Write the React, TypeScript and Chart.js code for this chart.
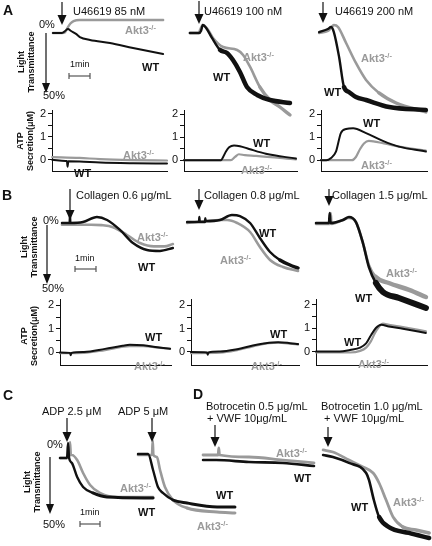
import React, { useEffect, useRef } from 'react';
import { Chart, registerables } from 'chart.js';

Chart.register(...registerables);

type Pt = [number, number];

// ===== DATA: time (s, from agonist addition) vs light transmittance (%) or ATP (µM) =====
// A: U46619
const a1WT: Pt[] = [[-26, 0], [0, 0], [9, -1.7], [17, -3.4], [26, -1.7], [40, 0.8], [51, 3.4], [80, 5.9], [137, 8.5], [203, 12.7], [289, 17.8]];
const a1Akt3: Pt[] = [[-26, 0], [0, 0], [8, -0.5], [15, -4], [24, -8], [33, -10], [50, -11], [100, -11], [200, -11], [289, -11]];
const a2WT: Pt[] = [[-26, 0], [0, 0], [6, -2], [11, -6.8], [20, -4.5], [37, 4.2], [60, 14.4], [80, 16.9], [97, 22.9], [117, 33], [137, 45.8], [166, 52.5], [203, 56.8], [260, 59.3]];
const a2Akt3: Pt[] = [[-26, 0], [0, 0], [3, -2.5], [11, -6.8], [26, -2.5], [40, 4.2], [69, 11.9], [109, 14.4], [126, 18.6], [146, 28.8], [174, 45.8], [203, 56.8], [231, 62.7], [260, 69.5]];
const a3WT: Pt[] = [[-11, -0.8], [14, -3.4], [23, -5.1], [31, -0.8], [46, 20.3], [60, 45.8], [74, 50], [94, 54.2], [123, 56.8], [189, 62.7], [294, 65.3]];
const a3Akt3: Pt[] = [[-11, 0], [14, -1.7], [23, -4.2], [31, -6.8], [43, -5.1], [66, 8.5], [94, 25.4], [123, 39.8], [160, 50.8], [209, 59.3], [294, 66.9]];
const atpA1WT: Pt[] = [[-28, 0], [10, -0.05], [14, -0.05], [16, -0.3], [18, -0.06], [50, -0.07], [109, -0.12], [203, -0.15], [300, -0.16]];
const atpA1Akt3: Pt[] = [[-28, 0.12], [50, 0.08], [109, 0.03], [200, -0.01], [300, -0.03]];
const atpA2WT: Pt[] = [[-43, 0], [63, 0], [69, 0.14], [77, 0.38], [86, 0.56], [100, 0.64], [117, 0.61], [143, 0.49], [191, 0.28], [277, 0.07]];
const atpA2Akt3: Pt[] = [[-43, 0], [91, 0], [103, 0.14], [114, 0.26], [131, 0.22], [163, 0.19], [277, 0.03]];
const atpA3WT: Pt[] = [[-6, 0], [9, 0], [23, 0.1], [37, 0.37], [51, 1.18], [66, 1.36], [86, 1.39], [123, 1.18], [171, 0.84], [217, 0.59], [294, 0.38]];
const atpA3Akt3: Pt[] = [[-6, 0], [83, 0], [94, 0.14], [106, 0.49], [117, 0.73], [131, 0.84], [174, 0.73], [217, 0.59], [294, 0.42]];

// B: Collagen
const b1WT: Pt[] = [[-23, 0], [-1, 0], [0, -6], [1, 0], [37, -0.8], [77, -5], [106, -2.5], [143, 5.8], [180, 16.7], [220, 22.5], [257, 23.3], [294, 20.8]];
const b1Akt3: Pt[] = [[-23, 1.5], [60, 1.5], [90, 1.8], [123, 3.5], [163, 10], [200, 16.7], [240, 19.5], [270, 19.5], [294, 17.5]];
const b2WT: Pt[] = [[-34, -0.8], [0, -0.8], [1, -5], [2, -0.8], [17, -0.8], [18, -4], [19, -1.5], [60, -2.5], [94, -6.7], [117, -5.8], [146, 0], [174, 12.5], [203, 24.2], [231, 30.8], [260, 35], [283, 37.5]];
const b2Akt3: Pt[] = [[-34, 0], [60, -2.5], [80, -2.5], [109, 0], [146, 7.5], [174, 20], [203, 30.8], [240, 36.7], [283, 40]];
const b3WT: Pt[] = [[-37, 0], [0, 0], [2, -8.3], [4, 0], [40, -2.5], [57, -5], [77, -0.8], [97, 16.7], [114, 36.7], [134, 50], [154, 57.5], [200, 62.5], [277, 70.8]];
const b3Akt3: Pt[] = [[-37, 0.8], [3, 0.8], [5, -8.3], [7, 0.8], [40, -2.5], [57, -4.2], [77, -0.8], [97, 16.7], [114, 35], [134, 45], [171, 50], [229, 55.8], [277, 61.7]];
const atpB1WT: Pt[] = [[-29, 0], [0, -0.02], [2, -0.12], [4, -0.02], [40, 0.02], [100, 0.15], [150, 0.28], [171, 0.32], [210, 0.3], [250, 0.22], [286, 0.16]];
const atpB1Akt3: Pt[] = [[-29, -0.03], [40, -0.02], [100, 0.1], [171, 0.27], [210, 0.27], [250, 0.2], [286, 0.15]];
const atpB2WT: Pt[] = [[-23, 0], [23, -0.02], [25, -0.12], [27, -0.02], [60, 0.02], [109, 0.12], [154, 0.28], [200, 0.4], [226, 0.42], [260, 0.38], [283, 0.34]];
const atpB2Akt3: Pt[] = [[-23, -0.05], [60, -0.03], [109, 0.08], [154, 0.24], [200, 0.38], [226, 0.4], [260, 0.36], [283, 0.32]];
const atpB3WT: Pt[] = [[-37, 0], [31, 0], [60, 0.07], [89, 0.17], [106, 0.35], [120, 0.7], [134, 1.01], [149, 1.15], [171, 1.08], [211, 0.98], [277, 0.8]];
const atpB3Akt3: Pt[] = [[-37, -0.04], [60, -0.04], [89, 0.03], [106, 0.17], [120, 0.45], [134, 0.87], [154, 1.2], [171, 1.15], [211, 1.05], [277, 0.87]];

// C: ADP
const c1WT: Pt[] = [[-20, 0.9], [0, 0.9], [3, -12.5], [6, 0.9], [14, 5.4], [29, 17.9], [46, 26.8], [74, 32.1], [114, 35.7], [246, 36.6]];
const c1Akt3: Pt[] = [[-20, 0.9], [6, 0.9], [8.6, -13.4], [11, -1.8], [14, -1.8], [29, 2.7], [46, 14.3], [66, 25], [94, 32.1], [143, 35.7], [246, 35.7]];
const c2WT: Pt[] = [[-40, -2.7], [-11, -2.7], [3, 11.6], [17, 26.8], [31, 32.1], [60, 38.4], [100, 41.1], [186, 44.6], [237, 44.6]];
const c2Akt3: Pt[] = [[-40, -1.8], [0, -1.8], [2, -15], [4, -1.8], [14, 0], [23, 11.6], [37, 26.8], [60, 38.4], [100, 45.5], [186, 49.1], [237, 50]];

// D: Botrocetin + VWF
const d1WT: Pt[] = [[-37, 4.5], [0, 4.5], [94, 6.3], [191, 7.1], [280, 9.8]];
const d1Akt3: Pt[] = [[-37, 0], [6, 0], [8, -6.3], [10, 0], [94, 1.8], [191, 4.5], [280, 7.1]];
const d2WT: Pt[] = [[-14, 0], [14, 1.8], [60, 7.1], [109, 16.1], [117, 22.3], [131, 40.2], [146, 55.4], [174, 64.3], [231, 69.6], [289, 74.1]];
const d2Akt3: Pt[] = [[-14, -4.5], [14, -2.7], [60, 4.5], [100, 10.7], [129, 16.1], [146, 25], [166, 40.2], [186, 55.4], [214, 64.3], [251, 67], [289, 69.6]];

const atpTicks = [0, 0.5, 1, 1.5, 2];

// ===== STYLE / LAYOUT =====
const INK = '#111111';
const GREY = '#9a9a9a';
const FONT = '"Liberation Sans", Arial, Helvetica, sans-serif';
const PPS = 0.35; // px per second (1 min ≈ 21 px)
const AXW = 20;
const PADB = 2;

type Frame = { left: number; top: number; width: number; height: number; x: [number, number]; y: [number, number] };
type Trace = { data: Pt[]; color: string; width: number; noisyFrom?: number; noisyWidth?: number };

function aggFrame(left: number, right: number, top: number, bottom: number, x0: number, y0: number, ppu: number): Frame {
  return { left, top, width: right - left, height: bottom - top, x: [(left - x0) / PPS, (right - x0) / PPS], y: [(top - y0) / ppu, (bottom - y0) / ppu] };
}
function atpFrame(axisX: number, right: number, top: number, bottom: number, x0: number, y0: number, ppu: number): Frame {
  return { left: axisX - AXW, top, width: right - axisX + AXW, height: bottom - top + PADB, x: [(axisX - x0) / PPS, (right - x0) / PPS], y: [(y0 - bottom) / ppu, (y0 - top) / ppu] };
}

function Plot({ f, traces, atp }: { f: Frame; traces: Trace[]; atp?: boolean }) {
  const ref = useRef<HTMLCanvasElement>(null);
  useEffect(() => {
    const cv = ref.current;
    if (!cv) return;
    const yScale: any = atp
      ? {
          type: 'linear', min: f.y[0], max: f.y[1], position: 'left',
          afterBuildTicks: (s: any) => { s.ticks = atpTicks.map((v) => ({ value: v })); },
          afterFit: (s: any) => { s.width = AXW; },
          ticks: { callback: (v: any) => (Number.isInteger(v) ? String(v) : ''), font: { family: FONT, size: 11 }, color: INK, padding: 2, autoSkip: false },
          grid: { display: true, drawOnChartArea: false, drawTicks: true, tickLength: 4, color: INK, lineWidth: 1 },
          border: { display: true, color: INK, width: 1 },
        }
      : { type: 'linear', min: f.y[0], max: f.y[1], reverse: true, display: false };
    const xScale: any = atp
      ? {
          type: 'linear', min: f.x[0], max: f.x[1], position: 'bottom',
          afterFit: (s: any) => { s.height = 0; },
          ticks: { display: false },
          grid: { display: false },
          border: { display: true, color: INK, width: 1 },
        }
      : { type: 'linear', min: f.x[0], max: f.x[1], display: false };
    const chart = new Chart(cv, {
      type: 'line',
      data: {
        datasets: traces.map((t) => ({
          data: t.data.map(([x, y]) => ({ x, y })),
          borderColor: t.color,
          borderWidth: t.width,
          segment: t.noisyFrom === undefined ? undefined : {
            borderWidth: (ctx: any) => (ctx.p0.parsed.x >= (t.noisyFrom as number) ? t.noisyWidth : t.width),
          },
          pointRadius: 0,
          fill: false,
          cubicInterpolationMode: 'monotone',
          borderJoinStyle: 'round',
          borderCapStyle: 'round',
          clip: 8,
        })) as any,
      },
      options: {
        responsive: false,
        animation: false,
        devicePixelRatio: 1,
        events: [],
        layout: { autoPadding: false, padding: atp ? { left: 0, right: 0, top: 0, bottom: PADB } : 0 } as any,
        plugins: { legend: { display: false }, tooltip: { enabled: false } },
        scales: { x: xScale, y: yScale },
      },
    });
    return () => chart.destroy();
  }, []);
  return <canvas ref={ref} width={f.width} height={f.height} style={{ position: 'absolute', left: f.left, top: f.top }} />;
}

function T({ x, y, s = 11, b = false, c = INK, children }: { x: number; y: number; s?: number; b?: boolean; c?: string; children: React.ReactNode }) {
  return (
    <div style={{ position: 'absolute', left: x, top: y - 0.13 * s, fontSize: s, lineHeight: 1, fontWeight: b ? 700 : 400, color: c, whiteSpace: 'nowrap', fontFamily: FONT }}>
      {children}
    </div>
  );
}
const WT = ({ x, y }: { x: number; y: number }) => <T x={x} y={y} b>WT</T>;
const KO = ({ x, y }: { x: number; y: number }) => (
  <T x={x} y={y} b c={GREY}>
    Akt3<span style={{ fontSize: 7.5, position: 'relative', top: -4 }}>-/-</span>
  </T>
);
function R({ cx, cy, lines, s = 9 }: { cx: number; cy: number; lines: string[]; s?: number }) {
  return (
    <div style={{ position: 'absolute', left: cx, top: cy, transform: 'translate(-50%,-50%) rotate(-90deg)', fontSize: s, fontWeight: 700, lineHeight: 1.1, textAlign: 'center', whiteSpace: 'nowrap', fontFamily: FONT, color: INK }}>
      {lines.map((l) => (<div key={l}>{l}</div>))}
    </div>
  );
}

const K = (c: string, w: number, d: Pt[], noisyFrom?: number, noisyWidth?: number): Trace => ({ data: d, color: c, width: w, noisyFrom, noisyWidth });

export default function App() {
  const agonistArrows: [number, number, number][] = [
    [62, 2, 25], [199, 1, 24], [323, 2, 23],
    [70, 189, 220], [199, 189, 210], [329, 189, 206],
    [67, 418, 442], [152, 418, 442],
    [215, 425, 447], [328, 427, 447],
  ];
  const axisArrows: [number, number, number][] = [[46, 33, 93], [47, 225, 284], [50, 457, 514]];
  const bars: [number, number, number][] = [[69, 90, 76], [75, 96, 269], [80, 100, 524]];
  const arrow = (x: number, y1: number, y2: number, hw: number, key: string) => (
    <g key={key}>
      <line x1={x} y1={y1} x2={x} y2={y2 - 8} stroke={INK} strokeWidth={1.2} />
      <polygon points={`${x - hw},${y2 - 10} ${x + hw},${y2 - 10} ${x},${y2}`} fill={INK} />
    </g>
  );

  return (
    <div style={{ position: 'absolute', left: 0, top: 0, width: 432, height: 546, background: '#fff', overflow: 'hidden', fontFamily: FONT }}>
      {/* A */}
      <Plot f={aggFrame(48, 170, 12, 125, 62, 33, 1.18)} traces={[K(INK, 2, a1WT), K(GREY, 2.4, a1Akt3)]} />
      <Plot f={aggFrame(182, 300, 12, 125, 199, 33, 1.18)} traces={[K(INK, 2.4, a2WT, 55, 4.5), K(GREY, 2.6, a2Akt3, 170, 3.4)]} />
      <Plot f={aggFrame(312, 432, 12, 125, 323, 33, 1.18)} traces={[K(INK, 2.4, a3WT, 55, 4.5), K(GREY, 2.6, a3Akt3, 150, 3.4)]} />
      <Plot atp f={atpFrame(52, 168, 102, 178, 62, 163.5, 28.7)} traces={[K(INK, 2, atpA1WT), K(GREY, 2.2, atpA1Akt3)]} />
      <Plot atp f={atpFrame(184, 298, 102, 178, 199, 164, 28.7)} traces={[K(INK, 2, atpA2WT), K(GREY, 2.2, atpA2Akt3)]} />
      <Plot atp f={atpFrame(321, 428, 102, 178, 323, 164, 28.7)} traces={[K(INK, 2, atpA3WT), K(GREY, 2.2, atpA3Akt3)]} />
      {/* B */}
      <Plot f={aggFrame(55, 180, 205, 320, 70, 223, 1.2)} traces={[K(INK, 2.4, b1WT), K(GREY, 2.6, b1Akt3)]} />
      <Plot f={aggFrame(183, 303, 205, 320, 199, 223, 1.2)} traces={[K(INK, 2.4, b2WT, 220, 3.4), K(GREY, 2.6, b2Akt3)]} />
      <Plot f={aggFrame(310, 432, 205, 320, 329, 223, 1.2)} traces={[K(INK, 2.6, b3WT, 125, 6), K(GREY, 2.6, b3Akt3, 125, 4.5)]} />
      <Plot atp f={atpFrame(60, 172, 291, 372, 70, 356, 29)} traces={[K(INK, 2, atpB1WT), K(GREY, 2.2, atpB1Akt3)]} />
      <Plot atp f={atpFrame(191, 300, 291, 372, 199, 355.5, 28.7)} traces={[K(INK, 2, atpB2WT), K(GREY, 2.2, atpB2Akt3)]} />
      <Plot atp f={atpFrame(316, 428, 291, 372, 329, 355, 28.7)} traces={[K(INK, 2, atpB3WT), K(GREY, 2.2, atpB3Akt3)]} />
      {/* C */}
      <Plot f={aggFrame(55, 162, 430, 540, 67, 457, 1.12)} traces={[K(INK, 2.4, c1WT, 60, 3), K(GREY, 2.6, c1Akt3)]} />
      <Plot f={aggFrame(132, 245, 430, 540, 152, 457, 1.12)} traces={[K(INK, 2.4, c2WT, 50, 3), K(GREY, 2.6, c2Akt3, 90, 3)]} />
      {/* D */}
      <Plot f={aggFrame(200, 320, 430, 546, 216, 455, 1.12)} traces={[K(INK, 2.6, d1WT), K(GREY, 2.8, d1Akt3)]} />
      <Plot f={aggFrame(318, 432, 430, 546, 328, 455, 1.12)} traces={[K(INK, 2.6, d2WT, 140, 4.5), K(GREY, 2.8, d2Akt3, 200, 3.6)]} />

      <svg width={432} height={546} style={{ position: 'absolute', left: 0, top: 0 }}>
        {agonistArrows.map(([x, a, b], i) => arrow(x, a, b, 4.5, 'g' + i))}
        {axisArrows.map(([x, a, b], i) => arrow(x, a, b, 4, 'a' + i))}
        {bars.map(([a, b, y], i) => (
          <g key={'b' + i} stroke="#555" strokeWidth={1.2}>
            <line x1={a} y1={y} x2={b} y2={y} />
            <line x1={a} y1={y - 3} x2={a} y2={y + 3} />
            <line x1={b} y1={y - 3} x2={b} y2={y + 3} />
          </g>
        ))}
      </svg>

      {/* panel letters */}
      <T x={3} y={5} s={14} b>A</T>
      <T x={2} y={190} s={14} b>B</T>
      <T x={3} y={390} s={14} b>C</T>
      <T x={193} y={389} s={14} b>D</T>

      {/* agonists */}
      <T x={73} y={7}>U46619 85 nM</T>
      <T x={204} y={7}>U46619 100 nM</T>
      <T x={335} y={7}>U46619 200 nM</T>
      <T x={76} y={191}>Collagen 0.6 μg/mL</T>
      <T x={204} y={191}>Collagen 0.8 μg/mL</T>
      <T x={332} y={191}>Collagen 1.5 μg/mL</T>
      <T x={42} y={407}>ADP 2.5 μM</T>
      <T x={118} y={407}>ADP 5 μM</T>
      <T x={206} y={402}>Botrocetin 0.5 μg/mL</T>
      <T x={207} y={414}>+ VWF 10μg/mL</T>
      <T x={321} y={402}>Botrocetin 1.0 μg/mL</T>
      <T x={324} y={414}>+ VWF 10μg/mL</T>

      {/* axis annotations */}
      <T x={39} y={20}>0%</T>
      <T x={43} y={91}>50%</T>
      <T x={43} y={216}>0%</T>
      <T x={42} y={284}>50%</T>
      <T x={47} y={440}>0%</T>
      <T x={43} y={520}>50%</T>
      <T x={70} y={61} s={9}>1min</T>
      <T x={75} y={255} s={9}>1min</T>
      <T x={80} y={509} s={9}>1min</T>
      <R cx={27} cy={62} lines={['Light', 'Transmittance']} />
      <R cx={30} cy={247} lines={['Light', 'Transmittance']} />
      <R cx={33} cy={482} lines={['Light', 'Transmittance']} />
      <R cx={26} cy={141} lines={['ATP', 'Secretion(μM)']} />
      <R cx={30} cy={336} lines={['ATP', 'Secretion(μM)']} />

      {/* genotype labels */}
      <KO x={125} y={26} /><WT x={142} y={63} />
      <KO x={243} y={53} /><WT x={213} y={73} />
      <KO x={361} y={54} /><WT x={324} y={88} />
      <KO x={123} y={151} /><WT x={74} y={169} />
      <WT x={253} y={139} /><KO x={241} y={166} />
      <WT x={363} y={119} /><KO x={361} y={161} />
      <KO x={137} y={233} /><WT x={138} y={263} />
      <WT x={259} y={229} /><KO x={220} y={256} />
      <KO x={386} y={269} /><WT x={355} y={294} />
      <WT x={145} y={333} /><KO x={134} y={362} />
      <WT x={270} y={330} /><KO x={251} y={362} />
      <WT x={344} y={338} /><KO x={358} y={360} />
      <KO x={120} y={484} /><WT x={138} y={508} />
      <WT x={216} y={491} /><KO x={197} y={522} />
      <KO x={276} y={449} /><WT x={294} y={474} />
      <WT x={351} y={503} /><KO x={393} y={498} />
    </div>
  );
}
